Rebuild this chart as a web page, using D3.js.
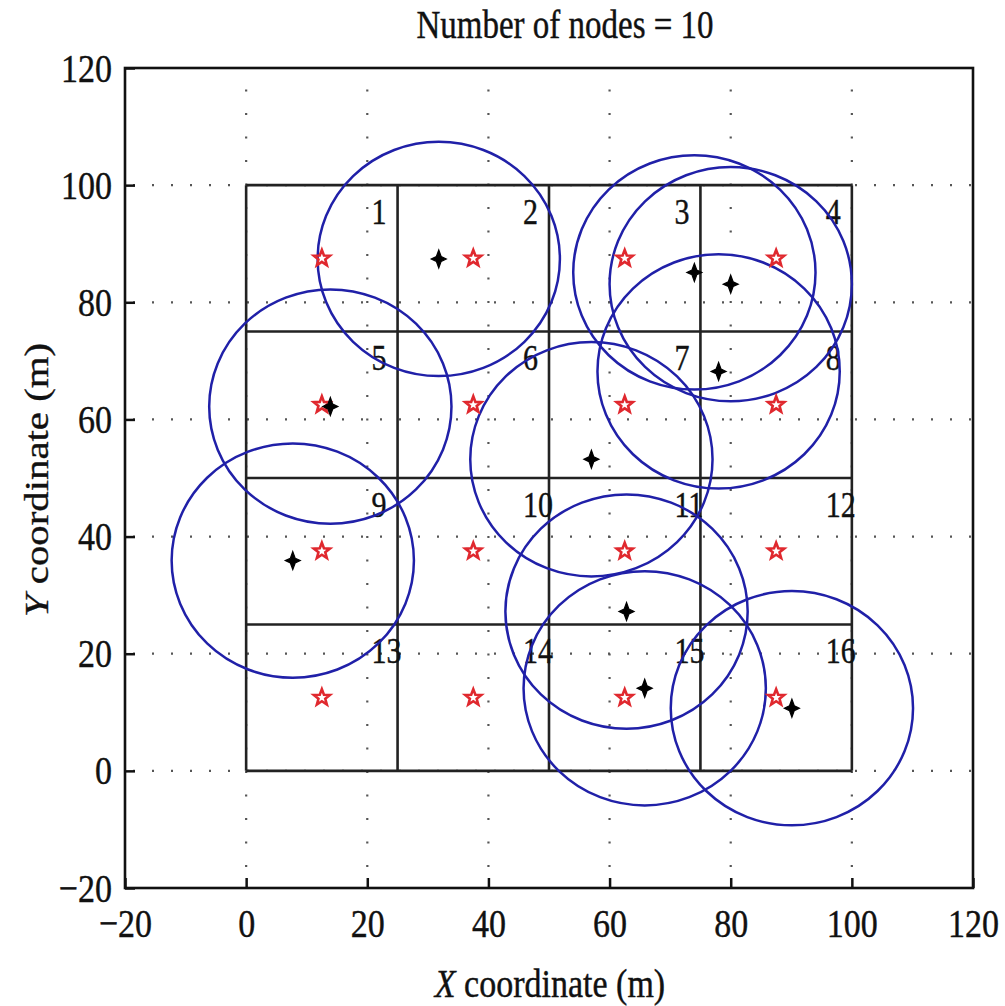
<!DOCTYPE html>
<html>
<head>
<meta charset="utf-8">
<script src="https://cdn.jsdelivr.net/npm/d3@7"></script>
<style>
  body { margin: 0; background: #fff; }
  text { font-family: 'Liberation Serif', 'DejaVu Serif', serif; fill: #111; stroke: #111; stroke-width: 0.35; }
</style>
</head>
<body>
<div id="chart"></div>
<script>
// sensor nodes (black) and their coverage range
const nodeX = [31.8, 13.9, 7.7, 57.0, 74.0, 80.0, 78.0, 62.8, 65.8, 90.1]
const nodeY = [87.4, 62.2, 35.9, 53.2, 85.1, 83.1, 68.2, 27.2, 14.1, 10.7]
const nodeRange = 20

// cell heads (red stars) at the cell centres
const headX = [12.5, 37.5, 62.5, 87.5]
const headY = [87.5, 62.5, 37.5, 12.5]

// grid cells
const cellEdges = [0, 25, 50, 75, 100]
const cellLabels = ['1', '2', '3', '4', '5', '6', '7', '8', '9', '10', '11', '12', '13', '14', '15', '16']

const ticks = [-20, 0, 20, 40, 60, 80, 100, 120]
const title = 'Number of nodes = 10'

const w = 1005
const h = 1006
const stretch = 1.2 // picture is taller than wide, text too

const svg = d3.select('#chart')
  .append('svg')
  .attr('width', w)
  .attr('height', h)

const x = d3.scaleLinear().domain([-20, 120]).range([125, 973])
const y = d3.scaleLinear().domain([-20, 120]).range([888, 68])

// dotted grid
svg.append('g')
  .selectAll('line')
  .data(ticks.slice(1, -1))
  .enter()
  .append('line')
  .attr('x1', d => x(d)).attr('x2', d => x(d))
  .attr('y1', y(-20)).attr('y2', y(120))
  .attr('stroke', '#555')
  .attr('stroke-width', 2.2)
  .attr('stroke-dasharray', '2,21.5')
  .attr('stroke-dashoffset', -21)

svg.append('g')
  .selectAll('line')
  .data(ticks.slice(1, -1))
  .enter()
  .append('line')
  .attr('y1', d => y(d)).attr('y2', d => y(d))
  .attr('x1', x(-20)).attr('x2', x(120))
  .attr('stroke', '#555')
  .attr('stroke-width', 2.2)
  .attr('stroke-dasharray', '2,17')
  .attr('stroke-dashoffset', -8)

// cell lines
svg.append('g')
  .selectAll('line')
  .data(cellEdges)
  .enter()
  .append('line')
  .attr('x1', d => x(d)).attr('x2', d => x(d))
  .attr('y1', y(0)).attr('y2', y(100))
  .attr('stroke', '#222')
  .attr('stroke-width', 2.6)

svg.append('g')
  .selectAll('line')
  .data(cellEdges)
  .enter()
  .append('line')
  .attr('y1', d => y(d)).attr('y2', d => y(d))
  .attr('x1', x(0)).attr('x2', x(100))
  .attr('stroke', '#222')
  .attr('stroke-width', 2.6)

// cell numbers
const labelData = cellLabels.map((t, i) => ({
  t: t,
  lx: cellEdges[i % 4] + 20.7,
  ly: cellEdges[4 - Math.floor(i / 4)] - 6.6
}))

svg.append('g')
  .selectAll('g')
  .data(labelData)
  .enter()
  .append('g')
  .attr('transform', d => 'translate(' + x(d.lx) + ',' + y(d.ly) + ')')
  .append('text')
  .attr('transform', 'scale(1,' + stretch + ')')
  .attr('font-size', 30)
  .text(d => d.t)

// coverage circles
const nodes = nodeX.map((e, i) => [e, nodeY[i]])

svg.append('g')
  .selectAll('ellipse')
  .data(nodes)
  .enter()
  .append('ellipse')
  .attr('cx', d => x(d[0]))
  .attr('cy', d => y(d[1]))
  .attr('rx', x(nodeRange) - x(0))
  .attr('ry', y(0) - y(nodeRange))
  .attr('fill', 'none')
  .attr('stroke', '#2020a8')
  .attr('stroke-width', 2.5)

// red pentagrams
const pentagram = (R) => {
  const r = R * 0.42
  const pts = d3.range(10).map(k => {
    const a = -Math.PI / 2 + k * Math.PI / 5
    const rr = k % 2 === 0 ? R : r
    return [rr * Math.cos(a), rr * Math.sin(a)]
  })
  return 'M' + pts.join('L') + 'Z'
}

const heads = []
headY.forEach(hy => headX.forEach(hx => heads.push([hx, hy])))

svg.append('g')
  .selectAll('path')
  .data(heads)
  .enter()
  .append('path')
  .attr('transform', d => 'translate(' + x(d[0]) + ',' + y(d[1]) + ')')
  .attr('d', pentagram(8.5))
  .attr('fill', 'none')
  .attr('stroke', '#e0282e')
  .attr('stroke-width', 2.6)
  .attr('stroke-linejoin', 'miter')

// black node markers
const sparkle = 'M0,-9L2.4,-2.4L7.5,0L2.4,2.4L0,9L-2.4,2.4L-7.5,0L-2.4,-2.4Z'

svg.append('g')
  .selectAll('path')
  .data(nodes)
  .enter()
  .append('path')
  .attr('transform', d => 'translate(' + x(d[0]) + ',' + y(d[1]) + ')')
  .attr('d', sparkle)
  .attr('fill', '#000')
  .attr('stroke', '#000')
  .attr('stroke-width', 1.2)

// axes
const xAxis = d3.axisBottom(x)
  .tickValues(ticks)
  .tickSize(-10)
  .tickPadding(17)
  .tickFormat(d => d < 0 ? '\u2212' + Math.abs(d) : d)

const yAxis = d3.axisLeft(y)
  .tickValues(ticks)
  .tickSize(-10)
  .tickPadding(13)
  .tickFormat(d => d < 0 ? '\u2212' + Math.abs(d) : d)

const gx = svg.append('g')
  .attr('transform', 'translate(0,' + y(-20) + ')')
  .call(xAxis)

const gy = svg.append('g')
  .attr('transform', 'translate(' + x(-20) + ',0)')
  .call(yAxis);

[gx, gy].forEach(g => {
  g.select('.domain').remove()
  g.selectAll('.tick line').attr('stroke', '#111').attr('stroke-width', 2.5)
  g.selectAll('.tick text')
    .attr('font-family', 'Liberation Serif, serif')
    .attr('font-size', 34)
    .attr('fill', '#111')
    .attr('transform', 'scale(1,' + stretch + ')')
})

// axes box
svg.append('rect')
  .attr('x', x(-20))
  .attr('y', y(120))
  .attr('width', x(120) - x(-20))
  .attr('height', y(-20) - y(120))
  .attr('fill', 'none')
  .attr('stroke', '#111')
  .attr('stroke-width', 2.6)

// title and axis titles
svg.append('g')
  .attr('transform', 'translate(565,38)')
  .append('text')
  .attr('transform', 'scale(1,' + stretch + ')')
  .attr('text-anchor', 'middle')
  .attr('font-size', 33)
  .text(title)

const xt = svg.append('g')
  .attr('transform', 'translate(550,997)')
  .append('text')
  .attr('transform', 'scale(1,' + stretch + ')')
  .attr('text-anchor', 'middle')
  .attr('font-size', 34)
xt.append('tspan').attr('font-style', 'italic').text('X')
xt.append('tspan').text(' coordinate (m)')

const yt = svg.append('g')
  .attr('transform', 'translate(48,480)')
  .append('text')
  .attr('transform', 'scale(1,' + stretch + ') rotate(-90)')
  .attr('text-anchor', 'middle')
  .attr('font-size', 34)
yt.append('tspan').attr('font-style', 'italic').text('Y')
yt.append('tspan').text(' coordinate (m)')
</script>
</body>
</html>
